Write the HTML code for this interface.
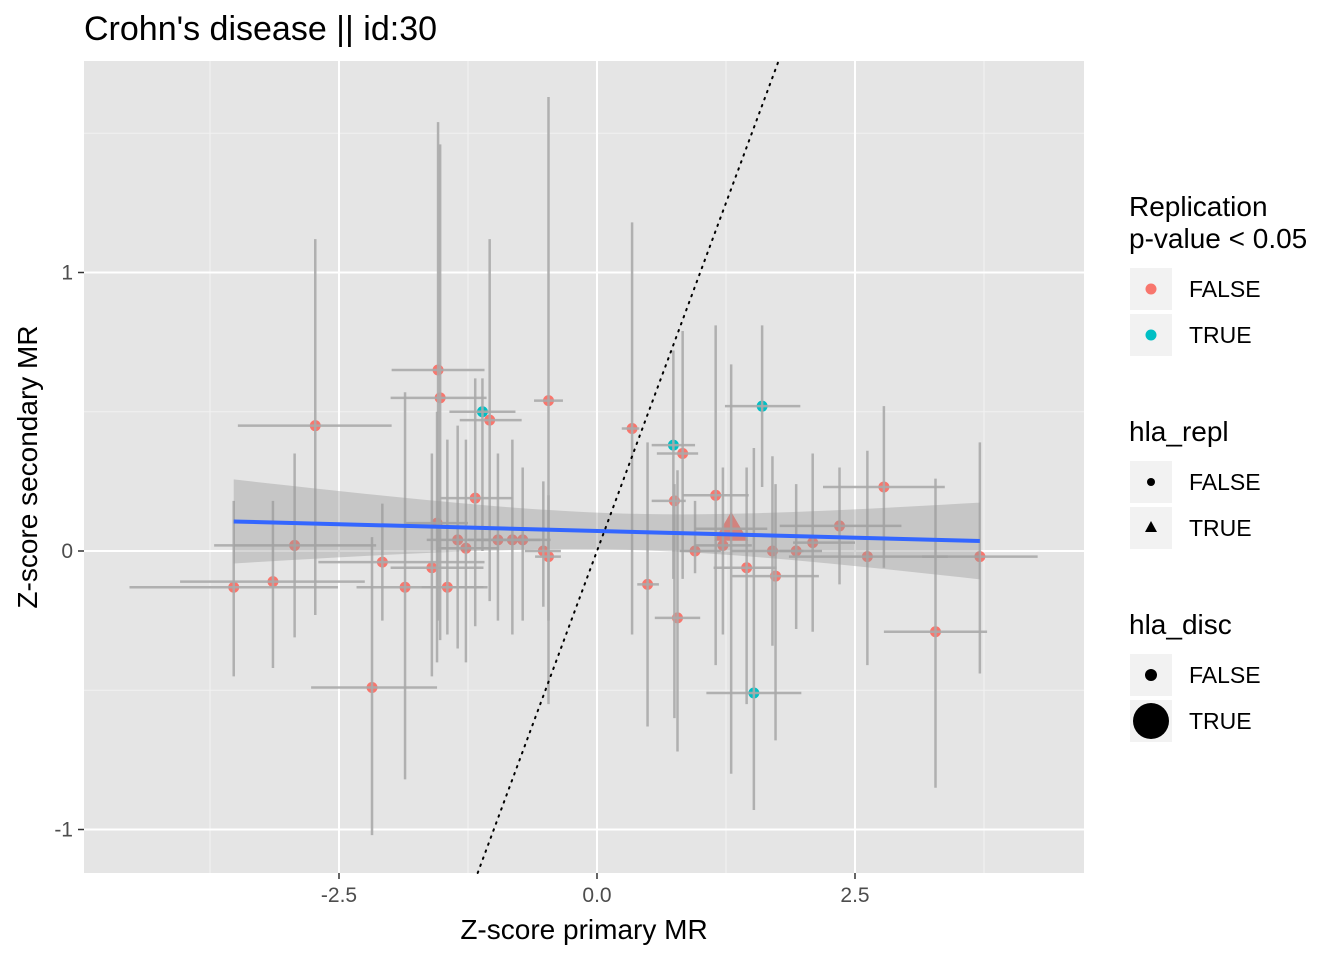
<!DOCTYPE html>
<html><head><meta charset="utf-8"><style>
body{margin:0;background:#fff;font-family:"Liberation Sans",sans-serif;}
svg text{font-family:"Liberation Sans",sans-serif;}
</style></head><body>
<svg id="chart" width="1344" height="960" xmlns="http://www.w3.org/2000/svg">
<text x="84" y="40" font-size="34" fill="#000">Crohn's disease || id:30</text>
<rect x="84" y="61" width="1000" height="812" fill="#e5e5e5"/>
<g id="grid"></g>
<g id="pts"></g>
<g id="bars"></g>
<g id="fit"></g>
<g id="axes"></g>
<text x="584" y="939" font-size="28" text-anchor="middle">Z-score primary MR</text>
<text transform="translate(37,467) rotate(-90)" font-size="28" text-anchor="middle">Z-score secondary MR</text>
<g>
<text x="1129" y="216" font-size="28">Replication</text>
<text x="1129" y="248" font-size="28">p-value &lt; 0.05</text>
<rect x="1130" y="268" width="42" height="42" fill="#f2f2f2"/>
<circle cx="1151" cy="289" r="5.5" fill="#f8766d"/>
<text x="1189" y="297" font-size="23">FALSE</text>
<rect x="1130" y="314" width="42" height="42" fill="#f2f2f2"/>
<circle cx="1151" cy="335" r="5.5" fill="#00bfc4"/>
<text x="1189" y="343" font-size="23">TRUE</text>
<text x="1129" y="441" font-size="28">hla_repl</text>
<rect x="1130" y="461" width="42" height="42" fill="#f2f2f2"/>
<circle cx="1151" cy="482" r="4" fill="#000"/>
<text x="1189" y="490" font-size="23">FALSE</text>
<rect x="1130" y="507" width="42" height="42" fill="#f2f2f2"/>
<polygon points="1151,521 1157,532 1145,532" fill="#000"/>
<text x="1189" y="536" font-size="23">TRUE</text>
<text x="1129" y="634" font-size="28">hla_disc</text>
<rect x="1130" y="654" width="42" height="42" fill="#f2f2f2"/>
<circle cx="1151" cy="675" r="6" fill="#000"/>
<text x="1189" y="683" font-size="23">FALSE</text>
<rect x="1130" y="700" width="42" height="42" fill="#f2f2f2"/>
<circle cx="1151" cy="721" r="18" fill="#000"/>
<text x="1189" y="729" font-size="23">TRUE</text>
</g>
</svg>
<script>
const xs  =[-3.52,-3.14,-2.93,-2.73,-2.18,-2.08,-1.86,-1.54,-1.52,-1.60,-1.45,-1.11,-1.04,-1.18,-0.47,-0.52,-0.47,0.34,0.74,0.83,0.75,0.95,0.49,0.78,1.15,1.60,1.52,1.45,1.73,1.70,2.35,2.62,2.78,3.28,3.71,2.09,1.93,1.22,-1.35,-1.27,-0.96,-0.82,-0.72,-1.55,1.30];
const ys  =[-0.13,-0.11,0.02,0.45,-0.49,-0.04,-0.13,0.65,0.55,-0.06,-0.13,0.50,0.47,0.19,0.54,0.00,-0.02,0.44,0.38,0.35,0.18,0.00,-0.12,-0.24,0.20,0.52,-0.51,-0.06,-0.09,0.00,0.09,-0.02,0.23,-0.29,-0.02,0.03,0.00,0.02,0.04,0.01,0.04,0.04,0.04,0.10,0.08];
const xlo =[-4.53,-4.04,-3.71,-3.48,-2.77,-2.70,-2.33,-1.99,-2.00,-2.00,-1.70,-1.43,-1.33,-1.52,-0.61,-0.70,-0.60,0.24,0.53,0.58,0.53,0.80,0.39,0.56,0.83,1.24,1.06,1.13,1.31,1.30,1.77,1.86,2.19,2.78,3.15,1.90,1.77,0.95,-1.65,-1.55,-1.25,-1.10,-1.00,-1.85,0.95];
const xhi =[-2.51,-2.25,-2.14,-1.99,-1.55,-1.09,-1.06,-1.09,-1.07,-1.10,-1.10,-0.79,-0.73,-0.82,-0.33,-0.35,-0.35,0.41,0.95,0.98,0.86,1.20,0.60,1.00,1.47,1.97,1.98,1.74,2.15,2.00,2.95,3.40,3.37,3.78,4.27,2.50,2.18,1.50,-1.05,-0.95,-0.65,-0.55,-0.45,-1.25,1.65];
const ylo =[-0.45,-0.42,-0.31,-0.23,-1.02,-0.25,-0.82,-0.25,-0.32,-0.45,-0.30,0.00,-0.18,-0.27,-0.55,-0.20,-0.25,-0.30,-0.10,-0.10,-0.60,-0.08,-0.63,-0.72,-0.41,0.23,-0.93,-0.55,-0.68,-0.34,-0.12,-0.41,-0.06,-0.85,-0.44,-0.29,-0.28,-0.30,-0.35,-0.40,-0.25,-0.30,-0.25,-0.40,-0.80];
const yhi =[0.18,0.18,0.35,1.12,0.05,0.17,0.57,1.54,1.46,0.35,0.40,0.62,1.12,0.62,1.63,0.25,0.20,1.18,0.72,0.79,0.24,0.18,0.39,0.29,0.81,0.81,0.37,0.30,0.24,0.34,0.30,0.36,0.52,0.26,0.39,0.35,0.24,0.30,0.45,0.40,0.35,0.40,0.30,0.50,0.67];
const repl=[0,0,0,0,0,0,0,0,0,0,0,1,0,0,0,0,0,0,1,0,0,0,0,0,0,1,1,0,0,0,0,0,0,0,0,0,0,0,0,0,0,0,0,0,0];
const hlaDisc=[0,0,0,0,0,0,0,0,0,0,0,0,0,0,0,0,0,0,0,0,0,0,0,0,0,0,0,0,0,0,0,0,0,0,0,0,0,0,0,0,0,0,0,0,1];
const xTicks=[-2.5,0.0,2.5];
const yTicks=[-1,0,1];
const fitIntercept=0.072, fitSlope=-0.0097;
const seBase=0.065, seX0=0.3, seK=0.00127;

const NS="http://www.w3.org/2000/svg";
const X=v=>597+v*103.2, Y=v=>551-v*278.5;
function mk(tag,attrs,parent){const e=document.createElementNS(NS,tag);for(const k in attrs)e.setAttribute(k,attrs[k]);document.getElementById(parent).appendChild(e);return e;}
[-3.75,-1.25,1.25,3.75].forEach(v=>{const l=mk('line',{x1:X(v),x2:X(v),y1:61,y2:873,stroke:'#f2f2f2','stroke-width':1},'grid');

});
[-0.5,0.5,1.5].forEach(v=>{const l=mk('line',{x1:84,x2:1084,y1:Y(v),y2:Y(v),stroke:'#f2f2f2','stroke-width':1},'grid');

});
xTicks.forEach(v=>{const l=mk('line',{x1:X(v),x2:X(v),y1:61,y2:873,stroke:'#fff','stroke-width':2},'grid');


const t=mk('line',{x1:X(v),x2:X(v),y1:873,y2:879,stroke:'#333','stroke-width':1.5},'axes');


const tx=mk('text',{x:X(v),y:902,'font-size':21,fill:'#4d4d4d','text-anchor':'middle'},'axes');tx.textContent=v.toFixed(1);

});
yTicks.forEach(v=>{const l=mk('line',{x1:84,x2:1084,y1:Y(v),y2:Y(v),stroke:'#fff','stroke-width':2},'grid');


const t=mk('line',{x1:78,x2:84,y1:Y(v),y2:Y(v),stroke:'#333','stroke-width':1.5},'axes');


const tx=mk('text',{x:73,y:Y(v)+7,'font-size':21,fill:'#4d4d4d','text-anchor':'end'},'axes');tx.textContent=String(v);

});
xs.forEach((x,i)=>{const col=repl[i]?'#00bfc4':'#f8766d';let p;
if(hlaDisc[i]){const cx=X(x),cy=Y(ys[i]);p=mk('polygon',{points:`${cx},${cy-17} ${cx+17},${cy+12} ${cx-17},${cy+12}`,fill:col},'pts');}
else p=mk('circle',{cx:X(x),cy:Y(ys[i]),r:5.5,fill:col},'pts');


const h=mk('line',{x1:X(xlo[i]),x2:X(xhi[i]),y1:Y(ys[i]),y2:Y(ys[i]),stroke:'rgba(170,170,170,0.9)','stroke-width':2.5},'bars');


const v=mk('line',{x1:X(x),x2:X(x),y1:Y(ylo[i]),y2:Y(yhi[i]),stroke:'rgba(170,170,170,0.9)','stroke-width':2.5},'bars');

});
const xmin=Math.min(...xs), xmax=Math.max(...xs);
let up=[],lo=[];
for(let k=0;k<=40;k++){const x=xmin+(xmax-xmin)*k/40;const f=fitIntercept+fitSlope*x;const s=Math.sqrt(seBase*seBase+seK*(x-seX0)**2);
up.push(X(x)+','+Y(f+s));lo.unshift(X(x)+','+Y(f-s));}
const rb=mk('polygon',{points:up.concat(lo).join(' '),fill:'rgba(153,153,153,0.4)'},'fit');


const fl=mk('line',{x1:X(xmin),y1:Y(fitIntercept+fitSlope*xmin),x2:X(xmax),y2:Y(fitIntercept+fitSlope*xmax),stroke:'#3366ff','stroke-width':4},'fit');


const id=mk('line',{x1:X(-1.156),y1:Y(-1.156),x2:X(1.758),y2:Y(1.758),stroke:'#000','stroke-width':2,'stroke-dasharray':'1.5 6','stroke-linecap':'round'},'fit');


</script>
</body></html>
